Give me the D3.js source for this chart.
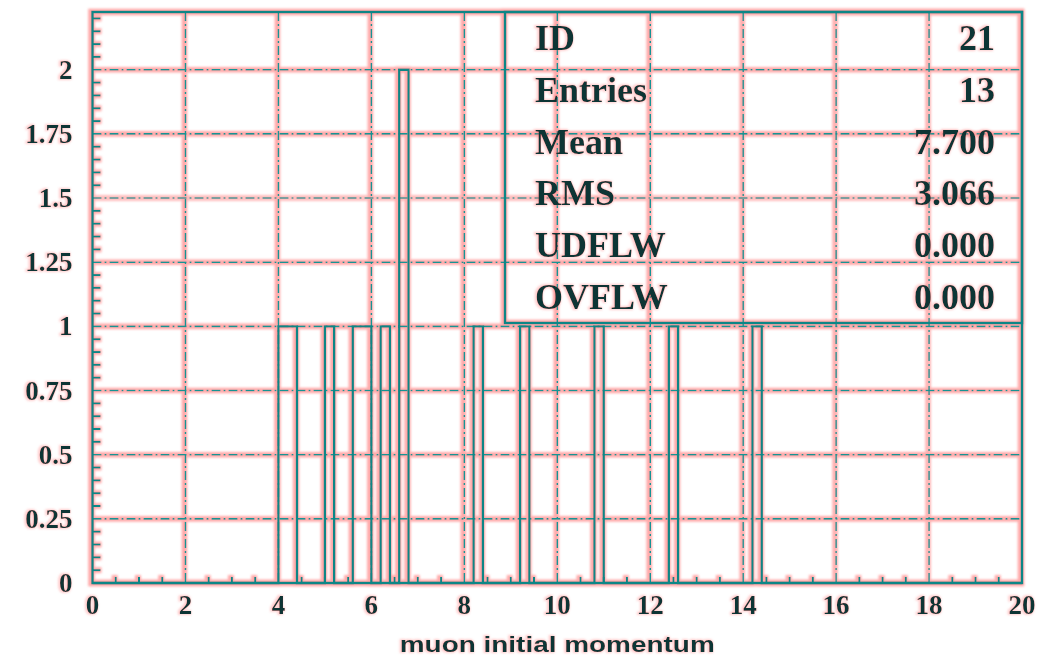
<!DOCTYPE html>
<html>
<head>
<meta charset="utf-8">
<script src="https://cdn.jsdelivr.net/npm/d3@7"></script>
<style>
  html, body { margin: 0; padding: 0; background: #ffffff; }
  svg { display: block; }
</style>
</head>
<body>
<svg id="chart" width="1054" height="659"></svg>
<script>
// Histogram 21: muon initial momentum, 100 bins of width 0.2 on [0, 20]
const xRange = [0, 20];
const binWidth = 0.2;
const binLow   = [4.0, 4.2, 5.0, 5.6, 5.8, 6.2, 6.6, 8.2, 9.2, 10.8, 12.4, 14.2];
const binCount = [1,   1,   1,   1,   1,   1,   2,   1,   1,   1,    1,    1];

const xTickValues = [0, 2, 4, 6, 8, 10, 12, 14, 16, 18, 20];
const xTickLabels = ["0", "2", "4", "6", "8", "10", "12", "14", "16", "18", "20"];
const yTickValues = [0, 0.25, 0.5, 0.75, 1, 1.25, 1.5, 1.75, 2];
const yTickLabels = ["0", "0.25", "0.5", "0.75", "1", "1.25", "1.5", "1.75", "2"];
const yTop = 2.225;

const statLabels = ["ID", "Entries", "Mean", "RMS", "UDFLW", "OVFLW"];
const statValues = ["21", "13", "7.700", "3.066", "0.000", "0.000"];

const xTitle = "muon initial momentum";

// ---- layout ----
const frame = { left: 92.5, right: 1022, top: 12, bottom: 583 };
const lineColor = "#0b8686";
const gridColor = "#129494";
const textColor = "#0a3434";

const svg = d3.select("#chart");
const defs = svg.append("defs");

// soft pink fringe around drawn strokes and glyphs
function addFringe(id, radius, blur, opacity) {
  const f = defs.append("filter").attr("id", id)
    .attr("x", "-3%").attr("y", "-3%").attr("width", "106%").attr("height", "106%");
  f.append("feMorphology").attr("in", "SourceAlpha").attr("operator", "dilate").attr("radius", radius).attr("result", "wide");
  f.append("feGaussianBlur").attr("in", "wide").attr("stdDeviation", blur).attr("result", "soft");
  f.append("feOffset").attr("in", "soft").attr("dx", -0.6).attr("dy", -0.4).attr("result", "shift");
  f.append("feFlood").attr("flood-color", "#ff7272").attr("flood-opacity", opacity).attr("result", "tint");
  f.append("feComposite").attr("in", "tint").attr("in2", "shift").attr("operator", "in").attr("result", "halo");
  const m = f.append("feMerge");
  m.append("feMergeNode").attr("in", "halo");
  m.append("feMergeNode").attr("in", "SourceGraphic");
}
addFringe("fringe", 1.6, 1.3, 0.6);
addFringe("fringeText", 0.8, 1.2, 0.35);

const g = svg.append("g").attr("filter", "url(#fringe)");
const gt = svg.append("g").attr("filter", "url(#fringeText)");

const x = d3.scaleLinear().domain(xRange).range([frame.left, frame.right]);
const y = d3.scaleLinear().domain([0, yTop]).range([frame.bottom, frame.top]);

// ---- grid (dash-dot) ----
const gridDash = "9,3,2,3";
g.append("g").selectAll("line")
  .data(xTickValues.filter(v => v > xRange[0] && v < xRange[1]))
  .join("line")
  .attr("x1", d => x(d)).attr("x2", d => x(d))
  .attr("y1", frame.top).attr("y2", frame.bottom)
  .attr("stroke", gridColor).attr("stroke-width", 1.6)
  .attr("stroke-dasharray", gridDash);
g.append("g").selectAll("line")
  .data(yTickValues.filter(v => v > 0))
  .join("line")
  .attr("x1", frame.left).attr("x2", frame.right)
  .attr("y1", d => y(d)).attr("y2", d => y(d))
  .attr("stroke", gridColor).attr("stroke-width", 1.6)
  .attr("stroke-dasharray", gridDash);

// ---- histogram outline ----
const nBins = Math.round((xRange[1] - xRange[0]) / binWidth);
const counts = new Array(nBins).fill(0);
binLow.forEach((lo, i) => { counts[Math.round((lo - xRange[0]) / binWidth)] += binCount[i]; });
const steps = counts.map((c, i) => [xRange[0] + i * binWidth, c]);
steps.push([xRange[1], 0]);
const stepLine = d3.line()
  .x(d => x(d[0]))
  .y(d => y(d[1]))
  .curve(d3.curveStepAfter);
g.append("path")
  .attr("d", stepLine(steps))
  .attr("fill", "none")
  .attr("stroke", lineColor)
  .attr("stroke-width", 2.4);

// ---- minor ticks (inward) ----
const yMinor = d3.range(0.05, yTop, 0.05).filter(v => Math.abs(v / 0.25 - Math.round(v / 0.25)) > 1e-6);
g.append("g").selectAll("line")
  .data(yMinor)
  .join("line")
  .attr("x1", frame.left).attr("x2", frame.left + 8)
  .attr("y1", d => y(d)).attr("y2", d => y(d))
  .attr("stroke", lineColor).attr("stroke-width", 2);
const xMinor = d3.range(0.5, xRange[1], 0.5).filter(v => Math.abs(v / 2 - Math.round(v / 2)) > 1e-6);
g.append("g").selectAll("line")
  .data(xMinor)
  .join("line")
  .attr("x1", d => x(d)).attr("x2", d => x(d))
  .attr("y1", frame.bottom).attr("y2", frame.bottom - 6)
  .attr("stroke", lineColor).attr("stroke-width", 2);

// ---- frame ----
g.append("rect")
  .attr("x", frame.left).attr("y", frame.top)
  .attr("width", frame.right - frame.left).attr("height", frame.bottom - frame.top)
  .attr("fill", "none").attr("stroke", lineColor).attr("stroke-width", 2.6);

// ---- statistics box ----
const box = { left: 505, right: frame.right, top: frame.top, bottom: 323 };
g.append("rect")
  .attr("x", box.left).attr("y", box.top)
  .attr("width", box.right - box.left).attr("height", box.bottom - box.top)
  .attr("fill", "none").attr("stroke", lineColor).attr("stroke-width", 2.6);

// ---- tick labels ----
const serif = "'Liberation Serif', 'DejaVu Serif', serif";
gt.append("g").selectAll("text")
  .data(yTickValues)
  .join("text")
  .attr("x", frame.left - 20)
  .attr("y", d => y(d) + 9)
  .attr("text-anchor", "end")
  .attr("font-family", serif).attr("font-weight", "bold").attr("font-size", 27)
  .attr("fill", textColor)
  .text((d, i) => yTickLabels[i]);
gt.append("g").selectAll("text")
  .data(xTickValues)
  .join("text")
  .attr("x", d => x(d))
  .attr("y", frame.bottom + 31)
  .attr("text-anchor", "middle")
  .attr("font-family", serif).attr("font-weight", "bold").attr("font-size", 27)
  .attr("fill", textColor)
  .text((d, i) => xTickLabels[i]);

// ---- axis title ----
gt.append("text")
  .attr("x", (frame.left + frame.right) / 2)
  .attr("y", 652)
  .attr("text-anchor", "middle")
  .attr("font-family", "'Liberation Sans', Arial, sans-serif")
  .attr("font-weight", "bold").attr("font-size", 22)
  .attr("textLength", 315).attr("lengthAdjust", "spacingAndGlyphs")
  .attr("fill", textColor)
  .text(xTitle);

// ---- statistics text ----
const rowStep = (box.bottom - box.top) / statLabels.length;
const rows = gt.append("g").selectAll("g")
  .data(statLabels)
  .join("g")
  .attr("transform", (d, i) => `translate(0,${box.top + rowStep * (i + 0.5) + 12})`);
rows.append("text")
  .attr("x", box.left + 30)
  .attr("font-family", serif).attr("font-weight", "bold").attr("font-size", 36)
  .attr("fill", textColor)
  .text(d => d);
rows.append("text")
  .attr("x", box.right - 27)
  .attr("text-anchor", "end")
  .attr("font-family", serif).attr("font-weight", "bold").attr("font-size", 36)
  .attr("fill", textColor)
  .text((d, i) => statValues[i]);
</script>
</body>
</html>
